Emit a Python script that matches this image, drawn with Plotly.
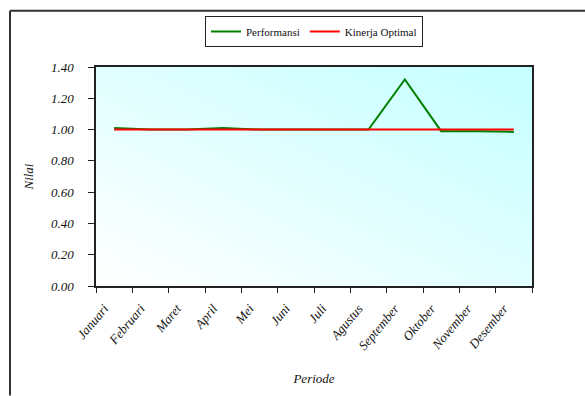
import plotly.graph_objects as go
import urllib.parse

# Monthly performance vs. the optimal level
bulan = ["Januari", "Februari", "Maret", "April", "Mei", "Juni", "Juli",
         "Agustus", "September", "Oktober", "November", "Desember"]
performansi = [1.01, 1.00, 1.00, 1.01, 1.00, 1.00, 1.00, 1.00, 1.32, 0.99, 0.99, 0.985]
kinerja_optimal = [1.00] * 12
y_ticks = [0.0, 0.2, 0.4, 0.6, 0.8, 1.0, 1.2, 1.4]

font_family = "Liberation Serif"

fig = go.Figure()
fig.add_trace(go.Scatter(x=bulan, y=performansi, name="Performansi", mode="lines",
                         line=dict(color="#008000", width=2)))
fig.add_trace(go.Scatter(x=bulan, y=kinerja_optimal, name="Kinerja Optimal", mode="lines",
                         line=dict(color="#FF0000", width=2)))

# Diagonal white-to-cyan fill behind the plot area
gradient_svg = (
    "<svg xmlns='http://www.w3.org/2000/svg' width='100' height='100' preserveAspectRatio='none'>"
    "<defs><linearGradient id='g' x1='0' y1='1' x2='1' y2='0'>"
    "<stop offset='0' stop-color='#FFFFFF'/><stop offset='1' stop-color='#C4FFFF'/>"
    "</linearGradient></defs><rect width='100' height='100' fill='url(#g)'/></svg>"
)
gradient_src = "data:image/svg+xml;charset=utf-8," + urllib.parse.quote(gradient_svg)

L, R, T, B = 96, 53, 67, 107
W, H = 585, 396
pw, ph = W - L - R, H - T - B


def px_x(px):
    return (px - L) / pw


def px_y(py):
    return (H - B - py) / ph


fig.update_layout(
    width=W, height=H,
    margin=dict(l=L, r=R, t=T, b=B),
    paper_bgcolor="white",
    plot_bgcolor="rgba(0,0,0,0)",
    font=dict(family=font_family, color="#111111"),
    showlegend=True,
    legend=dict(orientation="h", x=0.5, xanchor="center", y=px_y(31), yanchor="middle",
                bordercolor="#222222", borderwidth=1, bgcolor="white",
                font=dict(family=font_family, size=11), itemwidth=30,
                tracegroupgap=0),
    images=[dict(source=gradient_src, xref="paper", yref="paper", x=0, y=1,
                 sizex=1, sizey=1, sizing="stretch", layer="below", xanchor="left",
                 yanchor="top")],
    shapes=[
        dict(type="line", xref="paper", yref="paper", x0=px_x(10), x1=px_x(590),
             y0=px_y(10), y1=px_y(10), line=dict(color="#333333", width=2)),
        dict(type="line", xref="paper", yref="paper", x0=px_x(10), x1=px_x(10),
             y0=px_y(10), y1=px_y(400), line=dict(color="#333333", width=2)),
    ],
)

fig.update_xaxes(
    type="category", range=[-0.5, len(bulan) - 0.5], tickson="boundaries",
    ticks="outside", ticklen=5,
    tickcolor="#222222", showline=True, linecolor="#222222", linewidth=1.5,
    mirror=True, showgrid=False, tickangle=-50, ticklabelstandoff=8,
    ticklabelshift=-10,
    tickfont=dict(family=font_family, size=13, style="italic"),
    title=dict(text="Periode", font=dict(family=font_family, size=13, style="italic"),
               standoff=22),
)
fig.update_yaxes(
    range=[0, 1.4], tickvals=y_ticks, tickformat=".2f", ticks="outside", ticklen=6,
    tickcolor="#222222", showline=True, linecolor="#222222", linewidth=1.5,
    mirror=True, showgrid=False, zeroline=False, ticklabelstandoff=12,
    tickfont=dict(family=font_family, size=13, style="italic"),
    title=dict(text="Nilai", font=dict(family=font_family, size=13, style="italic"),
               standoff=14),
)

fig.write_html("out.html")
